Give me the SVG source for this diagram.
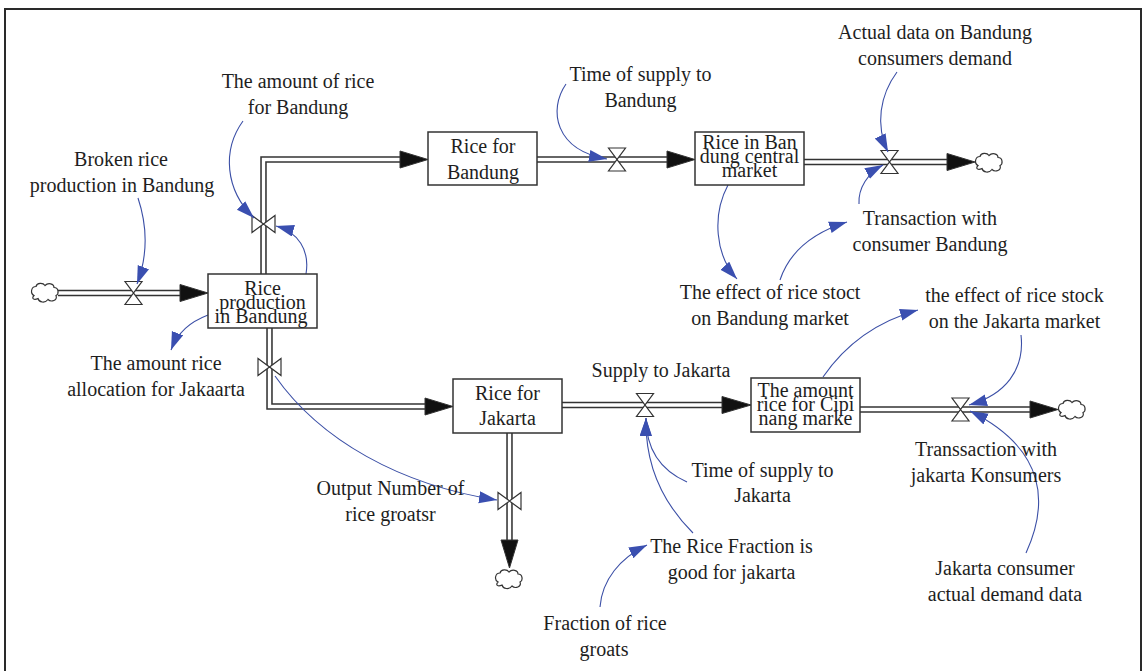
<svg xmlns="http://www.w3.org/2000/svg" xmlns:xlink="http://www.w3.org/1999/xlink" width="1146" height="671" viewBox="0 0 1146 671">
<style>
text{font-family:"Liberation Serif","Times New Roman",serif;font-size:20px;fill:#1e1e1e;text-anchor:middle}
.stock{fill:#fff;stroke:#333;stroke-width:1.5}
.po{fill:none;stroke:#333;stroke-width:6.5;stroke-linejoin:miter}
.pi{fill:none;stroke:#fff;stroke-width:3.4;stroke-linejoin:miter}
.ah{fill:#111;stroke:#333;stroke-width:1}
.valve{fill:#fff;stroke:#333;stroke-width:1.2}
.cloud{fill:#fff;stroke:#333;stroke-width:1.2}
.link{fill:none;stroke:#3b4fa6;stroke-width:1.1;marker-end:url(#blue)}
</style>
<defs>
<marker id="blue" markerUnits="userSpaceOnUse" markerWidth="20" markerHeight="14" refX="18" refY="6" orient="auto">
<path d="M0,0 L18,6 L0,12 Z" fill="#3a4fb0"/>
</marker>
<path id="cloud" class="cloud" d="M-11,3 C-15,1 -14,-6 -9,-6 C-8,-10 -2,-10 0,-7 C3,-10 9,-9 9,-5 C14,-5 14,2 11,3 C13,8 6,10 3,7 C0,11 -6,10 -7,6 C-11,8 -14,6 -11,3 Z"/>
<path id="hv" class="valve" d="M-8.5,-11.5 L8.5,-11.5 L-8.5,11.5 L8.5,11.5 Z"/>
<path id="vv" class="valve" d="M-11.5,-8.5 L-11.5,8.5 L11.5,-8.5 L11.5,8.5 Z"/>
</defs>
<rect x="0" y="0" width="1146" height="671" fill="#fff"/>
<rect x="5" y="9" width="1136" height="700" fill="none" stroke="#2a2a2a" stroke-width="2"/>

<g id="pipes">
<path class="po" d="M58,293 H181"/><path class="pi" d="M58,293 H181"/>
<polygon class="ah" points="180,284.5 208,293 180,301.5"/>
<path class="po" d="M263.5,274 V159.5 H401"/><path class="pi" d="M263.5,274 V159.5 H401"/>
<polygon class="ah" points="400,151 428,159.5 400,168"/>
<path class="po" d="M537,159.5 H668"/><path class="pi" d="M537,159.5 H668"/>
<polygon class="ah" points="667,151 695,159.5 667,168"/>
<path class="po" d="M804,162 H948"/><path class="pi" d="M804,162 H948"/>
<polygon class="ah" points="947,153.5 975,162 947,170.5"/>
<path class="po" d="M269.5,328 V406.5 H426"/><path class="pi" d="M269.5,328 V406.5 H426"/>
<polygon class="ah" points="425,398 453,406.5 425,415"/>
<path class="po" d="M562,405 H723"/><path class="pi" d="M562,405 H723"/>
<polygon class="ah" points="722,396.5 751,405 722,413.5"/>
<path class="po" d="M860,409.5 H1031"/><path class="pi" d="M860,409.5 H1031"/>
<polygon class="ah" points="1030,401 1058,409.5 1030,418"/>
<path class="po" d="M509.5,433 V541"/><path class="pi" d="M509.5,433 V541"/>
<polygon class="ah" points="501,540 509.5,568 518,540"/>
<use xlink:href="#cloud" x="45" y="292.5"/>
<use xlink:href="#cloud" x="989" y="162.5"/>
<use xlink:href="#cloud" x="1072" y="409.5"/>
<use xlink:href="#cloud" x="509" y="579"/>
<use xlink:href="#hv" x="133.5" y="293"/>
<use xlink:href="#vv" x="263.5" y="224"/>
<use xlink:href="#hv" x="617" y="159.5"/>
<use xlink:href="#hv" x="889.5" y="162"/>
<use xlink:href="#vv" x="269.5" y="367"/>
<use xlink:href="#hv" x="645" y="405"/>
<use xlink:href="#hv" x="960.5" y="409.5"/>
<use xlink:href="#vv" x="509.5" y="501"/>
</g>

<g id="links">
<path class="link" d="M138,198 C147,225 148,255 137,284"/>
<path class="link" d="M243,121 C222,150 225,190 254,218"/>
<path class="link" d="M306,274 C310,250 298,232 276,226"/>
<path class="link" d="M208,315 C190,322 178,332 171,350"/>
<path class="link" d="M275,376 C320,440 400,485 497,500"/>
<path class="link" d="M566,84 C548,110 555,150 607,159"/>
<path class="link" d="M728,185 C712,215 715,255 737,279"/>
<path class="link" d="M780,280 C790,250 815,232 847,222"/>
<path class="link" d="M859,204 C858,188 868,173 883,165"/>
<path class="link" d="M897,72 C880,95 875,125 888,152"/>
<path class="link" d="M823,377 C845,345 875,322 918,310"/>
<path class="link" d="M1021,335 C1025,370 1005,395 969,405"/>
<path class="link" d="M1026,553 C1048,505 1048,450 970,411"/>
<path class="link" d="M687,482 C660,470 646,450 646,418"/>
<path class="link" d="M693,533 C660,500 645,460 646,418"/>
<path class="link" d="M600,607 C602,580 620,558 647,545"/>
</g>

<g id="rice-production-bandung">
<rect class="stock" x="208" y="274" width="109" height="54"/>
<text x="262.5" y="295">Rice</text>
<text x="262.5" y="308.5">production</text>
<text x="261" y="322.5">in Bandung</text>
</g>
<g id="rice-for-bandung">
<rect class="stock" x="428" y="132" width="109" height="53"/>
<text x="483" y="153">Rice for</text>
<text x="483" y="179">Bandung</text>
</g>
<g id="rice-bandung-central-market">
<rect class="stock" x="695" y="132" width="109" height="53"/>
<text x="749.5" y="149">Rice in Ban</text>
<text x="749.5" y="163">dung central</text>
<text x="749.5" y="177">market</text>
</g>
<g id="rice-for-jakarta">
<rect class="stock" x="453" y="379" width="109" height="54"/>
<text x="507.5" y="400">Rice for</text>
<text x="507.5" y="425">Jakarta</text>
</g>
<g id="rice-cipinang-market">
<rect class="stock" x="751" y="378" width="109" height="54"/>
<text x="805.5" y="397">The amount</text>
<text x="805.5" y="411">rice for Cipi</text>
<text x="805.5" y="424.5">nang marke</text>
</g>

<g id="broken-rice-production"><text x="121" y="166">Broken rice</text><text x="122" y="192">production in Bandung</text></g>
<g id="amount-rice-bandung"><text x="298" y="88">The amount of rice</text><text x="298" y="114">for Bandung</text></g>
<g id="amount-rice-jakarta"><text x="156" y="370">The amount rice</text><text x="156" y="396">allocation for Jakaarta</text></g>
<g id="time-supply-bandung"><text x="640.5" y="81">Time of supply to</text><text x="640.5" y="107">Bandung</text></g>
<g id="actual-data-bandung"><text x="935" y="39">Actual data on Bandung</text><text x="935" y="65">consumers demand</text></g>
<g id="transaction-bandung"><text x="930" y="225">Transaction with</text><text x="930" y="251">consumer Bandung</text></g>
<g id="effect-bandung"><text x="770" y="299">The effect of rice stoct</text><text x="770" y="325">on Bandung market</text></g>
<g id="effect-jakarta"><text x="1014.5" y="302">the effect of rice stock</text><text x="1014.5" y="328">on the Jakarta market</text></g>
<g id="supply-jakarta"><text x="661" y="377">Supply to Jakarta</text></g>
<g id="output-groats"><text x="390.5" y="495">Output Number of</text><text x="390.5" y="521">rice groatsr</text></g>
<g id="time-supply-jakarta"><text x="762.5" y="477">Time of supply to</text><text x="762.5" y="502">Jakarta</text></g>
<g id="rice-fraction-jakarta"><text x="731.5" y="553">The Rice Fraction is</text><text x="731.5" y="579">good for jakarta</text></g>
<g id="transaction-jakarta"><text x="986" y="456">Transsaction with</text><text x="986" y="482">jakarta Konsumers</text></g>
<g id="jakarta-demand"><text x="1005" y="575">Jakarta consumer</text><text x="1005" y="601">actual demand data</text></g>
<g id="fraction-groats"><text x="605" y="630">Fraction of rice</text><text x="604" y="656">groats</text></g>
</svg>
